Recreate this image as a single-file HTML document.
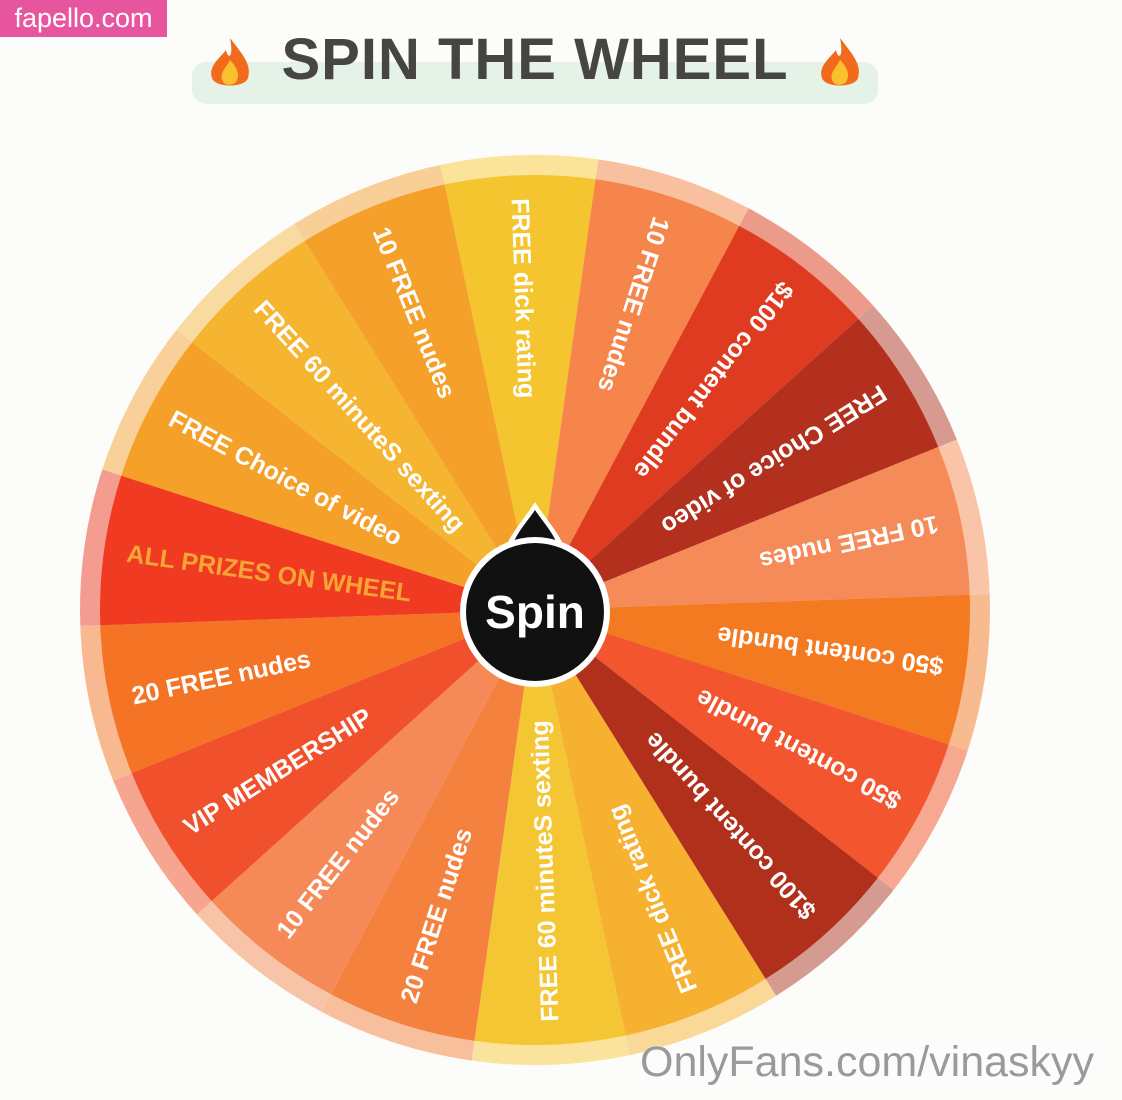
<!DOCTYPE html>
<html><head><meta charset="utf-8">
<style>
html,body{margin:0;padding:0;background:#fcfdfa;}
body{width:1122px;height:1100px;position:relative;overflow:hidden;font-family:"Liberation Sans",sans-serif;}
#tag{position:absolute;left:0;top:0;width:167px;height:37px;background:#e8559f;color:#fff;font-size:27px;line-height:37px;text-align:center;}
#pill{position:absolute;left:192px;top:62px;width:686px;height:42px;background:#e4f2e8;border-radius:14px;}
#title{position:absolute;left:192px;top:26px;width:686px;text-align:center;font-weight:bold;font-size:58px;color:#474542;letter-spacing:1px;}
#wm{position:absolute;left:640px;top:1038px;font-size:43px;color:#9a9a9a;text-shadow:0 0 2px #fff;}
svg{position:absolute;left:0;top:0;}
</style></head><body>
<div id="tag">fapello.com</div>
<div id="pill"></div>
<div id="title">SPIN THE WHEEL</div>
<svg width="1122" height="1100" id="s">
 <g transform="translate(230,66)">
  <path d="M0,-28 C12,-12 22,-2 18,12 C15,22 -15,22 -18,12 C-22,0 -10,-8 -4,-16 C-2,-6 4,-8 0,-28Z" fill="#f26a1b"/>
  <path d="M0,-6 C8,2 10,10 6,16 C2,20 -6,20 -8,14 C-10,6 -4,2 0,-6Z" fill="#fbc02d"/>
 </g>
 <g transform="translate(840,66)">
  <path d="M0,-28 C12,-12 22,-2 18,12 C15,22 -15,22 -18,12 C-22,0 -10,-8 -4,-16 C-2,-6 4,-8 0,-28Z" fill="#f26a1b"/>
  <path d="M0,-6 C8,2 10,10 6,16 C2,20 -6,20 -8,14 C-10,6 -4,2 0,-6Z" fill="#fbc02d"/>
 </g>
 <g id="wheel" transform="translate(535,610)"></g>
</svg>
<div id="wm">OnlyFans.com/vinaskyy</div>
<script>
var d=[
["FREE dick rating","#f4c52f","#fbe39a"],
["10 FREE nudes","#f5854b","#f9c0a0"],
["$100 content bundle","#df3b20","#ec9a8a"],
["FREE Choice of video","#b2301d","#d69a90"],
["10 FREE nudes","#f58b58","#f9c4a8"],
["$50 content bundle","#f47a22","#f8bb90"],
["$50 content bundle","#f3552f","#f7a890"],
["$100 content bundle","#b0301c","#d59a90"],
["FREE dick rating","#f5b12f","#f9d898"],
["FREE 60 minuteS sexting","#f5c634","#fae39c"],
["20 FREE nudes","#f4823e","#f8bf9c"],
["10 FREE nudes","#f58a58","#f8c4a8"],
["VIP MEMBERSHIP","#f0502c","#f6a690"],
["20 FREE nudes","#f47324","#f8b890"],
["ALL PRIZES ON WHEEL","#f03a22","#f59c90"],
["FREE Choice of video","#f5a028","#f9d09a"],
["FREE 60 minuteS sexting","#f5b530","#f9daa0"],
["10 FREE nudes","#f5a02a","#f9cf98"]];
var g=document.getElementById('wheel'),h='',R=455,r=435,off=-2;
function pt(a,rad){var t=(a-90)*Math.PI/180;return (rad*Math.cos(t)).toFixed(1)+','+(rad*Math.sin(t)).toFixed(1);}
d.forEach(function(s,i){var c=i*20+off,a1=c-10,a2=c+10;
h+='<path d="M0,0 L'+pt(a1,R)+' A'+R+','+R+' 0 0 1 '+pt(a2,R)+'Z" fill="'+s[2]+'"/>';
h+='<path d="M0,0 L'+pt(a1,r)+' A'+r+','+r+' 0 0 1 '+pt(a2,r)+'Z" fill="'+s[1]+'"/>';});
d.forEach(function(s,i){var c=i*20+off;var col=i==14?'#f6a634':'#fff';
h+='<g transform="rotate('+c+') translate(0,-412) rotate(90)"><text x="0" y="9" font-family="Liberation Sans,sans-serif" font-weight="bold" font-size="25" fill="'+col+'">'+s[0]+'</text></g>';});
h+='<path d="M0,-108 C10,-92 22,-80 30,-62 L-30,-62 C-22,-80 -10,-92 0,-108Z" fill="#fff"/>';
h+='<path d="M0,-100 C8,-88 18,-78 24,-62 L-24,-62 C-18,-78 -8,-88 0,-100Z" fill="#111"/>';
h+='<circle cx="0" cy="2" r="75" fill="#fff"/><circle cx="0" cy="2" r="69" fill="#111"/>';
h+='<text x="0" y="18" text-anchor="middle" font-family="Liberation Sans,sans-serif" font-weight="bold" font-size="46" fill="#fff">Spin</text>';
g.innerHTML=h;
</script>
</body></html>
